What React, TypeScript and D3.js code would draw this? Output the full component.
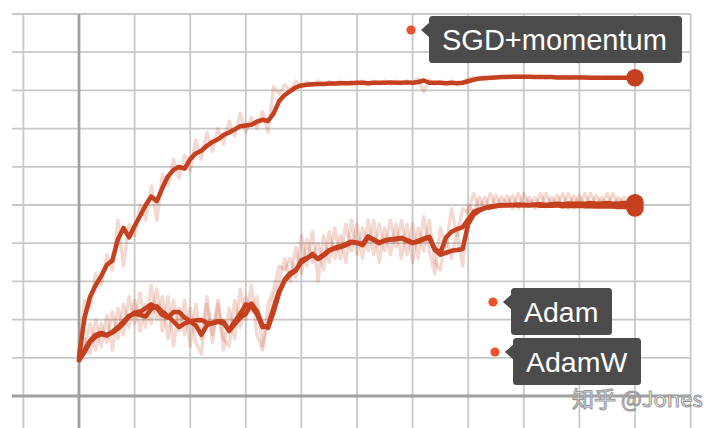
import React from "react";
import * as d3 from "d3";

// Training steps (shared by every series), in thousands
const steps: number[] = d3.range(0, 101, 1);

// SGD + momentum: raw and smoothed values
const sgdRaw = [
  1.1, 2.5, 2.3, 3.2, 2.9, 3.7, 3.3, 4.6, 3.4, 4.5,
  4.2, 5.0, 4.6, 5.5, 4.6, 5.8, 5.5, 6.2, 5.7, 6.3,
  5.9, 6.7, 6.2, 6.9, 6.4, 7.0, 6.6, 7.2, 6.8, 7.4,
  6.9, 7.3, 7.0, 7.45, 6.9, 8.1, 7.9, 8.15, 8.0, 8.25,
  8.1, 8.22, 8.12, 8.25, 8.15, 8.23, 8.15, 8.24, 8.17, 8.24,
  8.16, 8.25, 8.15, 8.24, 8.17, 8.25, 8.16, 8.24, 8.17, 8.25,
  8.18, 8.32, 7.95, 8.27, 8.16, 8.24, 8.15, 8.25, 8.16, 8.22,
  8.3, 8.33, 8.3, 8.36, 8.31, 8.37, 8.33, 8.37, 8.34, 8.38,
  8.33, 8.37, 8.34, 8.37, 8.33, 8.36, 8.33, 8.37, 8.32, 8.36,
  8.33, 8.36, 8.32, 8.36, 8.32, 8.35, 8.32, 8.35, 8.31, 8.34,
  8.32,
];
const sgdSmooth = [
  1.03, 2.05, 2.6, 2.9, 3.14, 3.43, 3.55, 4.1, 4.4, 4.15,
  4.45, 4.72, 5.0, 5.22, 5.1, 5.45, 5.75, 5.92, 6.0, 5.95,
  6.2, 6.35, 6.42, 6.55, 6.65, 6.72, 6.83, 6.9, 6.98, 7.06,
  7.08, 7.1, 7.18, 7.23, 7.2, 7.4, 7.72, 7.88, 7.98, 8.08,
  8.13, 8.15, 8.16, 8.17, 8.17, 8.18, 8.18, 8.19, 8.19, 8.19,
  8.2, 8.2, 8.19, 8.2, 8.2, 8.2, 8.21, 8.2, 8.2, 8.21,
  8.2, 8.22, 8.26, 8.2, 8.2, 8.2, 8.19, 8.2, 8.19, 8.2,
  8.24, 8.28, 8.31, 8.32, 8.33, 8.34, 8.35, 8.35, 8.36, 8.36,
  8.36, 8.36, 8.35, 8.35, 8.35, 8.35, 8.34, 8.34, 8.34, 8.34,
  8.34, 8.34, 8.33, 8.33, 8.33, 8.33, 8.33, 8.33, 8.33, 8.33,
  8.33,
];

// Adam: raw and smoothed values
const adamRaw = [
  0.9, 1.5, 1.1, 2.0, 1.3, 2.1, 1.2, 2.3, 1.6, 2.6,
  1.9, 2.7, 1.8, 2.9, 2.0, 2.6, 1.5, 2.5, 1.7, 2.5,
  1.3, 2.4, 1.5, 2.6, 1.4, 2.4, 1.2, 2.3, 1.5, 2.8,
  2.0, 2.9, 1.6, 1.2, 2.4, 2.8, 3.4, 3.3, 3.6, 3.1,
  4.2, 3.4, 4.3, 3.0, 4.2, 3.5, 4.4, 3.6, 4.5, 3.8,
  4.5, 3.6, 4.6, 3.7, 4.5, 3.8, 4.6, 3.9, 4.6, 3.7,
  4.5, 3.6, 4.7, 3.8, 3.2, 4.4, 3.9, 4.9, 4.2, 4.9,
  4.8, 5.3, 4.9, 5.2, 4.9, 5.25, 4.95, 5.25, 4.9, 5.3,
  4.95, 5.2, 4.9, 5.3, 4.95, 5.2, 5.0, 5.3, 4.9, 5.25,
  5.0, 5.3, 4.95, 5.25, 5.0, 5.3, 4.95, 5.2, 5.0, 5.15,
  5.05,
];
const adamSmooth = [
  0.95, 1.2, 1.45, 1.6, 1.65, 1.6, 1.66, 1.76, 1.9, 2.08,
  2.18, 2.21, 2.3, 2.4, 2.3, 2.12, 2.05, 2.2, 2.2, 2.05,
  1.96, 1.98, 1.99, 1.92, 1.9, 1.94, 1.9, 1.72, 1.95, 2.15,
  2.4, 2.35, 2.15, 1.8, 1.84, 2.3, 2.75, 3.02, 3.18, 3.28,
  3.55, 3.62, 3.68, 3.6, 3.7, 3.82, 3.86, 3.9, 3.95, 4.02,
  4.02, 3.95, 4.15, 4.1, 4.02, 4.06, 4.1, 4.12, 4.13, 4.06,
  4.0, 4.06, 4.12, 4.17, 3.85, 3.75, 4.15, 4.3, 4.37, 4.42,
  4.62, 4.82, 4.88, 4.92, 4.94, 4.97, 4.99, 5.0, 5.0, 5.01,
  5.0, 5.0, 5.01, 5.02, 5.0, 5.02, 5.03, 5.02, 5.04, 5.03,
  5.04, 5.03, 5.05, 5.03, 5.04, 5.05, 5.03, 5.04, 5.05, 5.05,
  5.06,
];

// AdamW: raw and smoothed values
const adamwRaw = [
  1.0, 1.3, 1.9, 1.2, 1.9, 1.4, 2.2, 1.5, 2.4, 1.8,
  2.5, 1.7, 2.4, 1.9, 2.8, 1.7, 2.6, 1.3, 2.3, 1.6,
  2.3, 1.4, 1.1, 2.4, 1.6, 2.5, 1.5, 1.3, 2.5, 1.8,
  2.6, 2.2, 2.6, 1.3, 1.9, 2.6, 3.0, 3.6, 3.0, 3.9,
  3.2, 4.1, 3.5, 4.0, 3.3, 4.3, 3.6, 4.2, 3.5, 4.6,
  3.7, 4.4, 3.8, 4.6, 3.5, 4.4, 3.7, 4.5, 3.6, 4.5,
  3.5, 4.4, 3.8, 4.6, 3.5, 3.3, 4.2, 3.6, 4.3, 3.4,
  5.0, 4.8, 5.2, 4.9, 5.3, 4.95, 5.2, 5.0, 5.25, 4.9,
  5.3, 5.0, 5.2, 4.95, 5.3, 5.0, 5.25, 4.95, 5.3, 5.0,
  5.25, 4.95, 5.3, 5.0, 5.2, 4.95, 5.3, 5.0, 5.2, 5.0,
  4.9,
];
const adamwSmooth = [
  0.93, 1.15, 1.42, 1.55, 1.62, 1.58, 1.68, 1.8, 1.95, 2.1,
  2.15, 2.12, 2.08, 2.28, 2.35, 2.2, 2.1, 1.95, 1.8, 1.9,
  1.95, 1.85, 1.6, 1.85, 1.92, 1.96, 1.95, 1.7, 1.88, 2.05,
  2.15, 2.42, 2.22, 1.85, 1.78, 2.2, 2.7, 3.05, 3.22, 3.3,
  3.5, 3.6, 3.72, 3.58, 3.68, 3.8, 3.88, 3.92, 3.98, 4.04,
  4.0, 3.98, 4.18, 4.08, 4.0, 4.08, 4.1, 4.1, 4.14, 4.08,
  4.02, 4.04, 4.1, 4.15, 3.82, 3.7, 3.75, 3.8, 3.82, 3.85,
  4.5, 4.75, 4.85, 4.92, 4.96, 4.98, 5.0, 4.99, 5.0, 4.99,
  5.0, 4.99, 5.0, 4.98, 4.99, 4.98, 4.99, 4.97, 4.98, 4.97,
  4.98, 4.97, 4.97, 4.96, 4.97, 4.96, 4.96, 4.95, 4.95, 4.94,
  4.92,
];

const seriesNames = ["SGD+momentum", "Adam", "AdamW"];
const rawSeries = [sgdRaw, adamRaw, adamwRaw];
const smoothSeries = [sgdSmooth, adamSmooth, adamwSmooth];

// Grid ticks
const xGridTicks = d3.range(-10, 111, 10);
const yGridTicks = d3.range(0, 11, 1);

const W = 720;
const H = 428;
const LINE = "#c4401f";
const DOT = "#e8552a";
const GRID = "#c8c8c8";
const AXIS = "#a0a0a0";

const x = d3.scaleLinear().domain([0, 100]).range([79, 635]);
const y = d3.scaleLinear().domain([0, 10]).range([396, 14]);

const line = d3
  .line<number>()
  .x((_, i) => x(steps[i]))
  .y((d) => y(d))
  .curve(d3.curveLinear);

// Tooltip-style legend labels
const labels = [
  { name: seriesNames[0], box: [429, 16, 253, 47], fs: 29 },
  { name: seriesNames[1], box: [511, 288, 101, 47], fs: 28.5 },
  { name: seriesNames[2], box: [513, 338, 128, 47], fs: 28.5 },
];

function Label({ name, box, fs }: { name: string; box: number[]; fs: number }) {
  const [bx, by, bw, bh] = box;
  const ty = by + 14;
  return (
    <g>
      <circle cx={bx - 18} cy={ty} r={4.6} fill={DOT} />
      <path d={`M${bx - 8},${ty} L${bx + 1},${ty - 8} L${bx + 1},${ty + 8} Z`} fill="#4b4b4b" />
      <rect x={bx} y={by} width={bw} height={bh} rx={3.5} fill="#4b4b4b" />
      <text
        x={bx + 13}
        y={by + bh / 2 + fs * 0.355}
        fill="#ffffff"
        fontSize={fs}
        fontFamily="'Liberation Sans', Arial, Helvetica, sans-serif"
      >
        {name}
      </text>
    </g>
  );
}

export default function App() {
  return (
    <svg
      width={W}
      height={H}
      viewBox={`0 0 ${W} ${H}`}
      style={{ position: "absolute", left: 0, top: 0, display: "block", background: "#fff" }}
    >
      {/* grid */}
      <g>
        {yGridTicks.map((t) => (
          <line key={"h" + t} x1={12} x2={x(110)} y1={y(t)} y2={y(t)} stroke={GRID} strokeWidth={1.8} />
        ))}
        {xGridTicks.map((t) => (
          <line key={"v" + t} x1={x(t)} x2={x(t)} y1={y(10)} y2={H} stroke={GRID} strokeWidth={1.8} />
        ))}
      </g>
      {/* axes */}
      <line x1={12} x2={x(110)} y1={y(0)} y2={y(0)} stroke={AXIS} strokeWidth={2.8} />
      <line x1={x(0)} x2={x(0)} y1={y(10)} y2={H} stroke={AXIS} strokeWidth={2.8} />

      {/* raw values */}
      {rawSeries.map((s, i) => (
        <path
          key={"raw" + i}
          d={line(s) || ""}
          fill="none"
          stroke={LINE}
          strokeOpacity={0.2}
          strokeWidth={3.4}
          strokeLinejoin="round"
        />
      ))}
      {/* smoothed values */}
      {smoothSeries.map((s, i) => (
        <path
          key={"sm" + i}
          d={line(s) || ""}
          fill="none"
          stroke={LINE}
          strokeWidth={4.5}
          strokeLinejoin="round"
          strokeLinecap="round"
        />
      ))}
      {/* last-value markers */}
      {smoothSeries.map((s, i) => (
        <circle
          key={"end" + i}
          cx={x(steps[steps.length - 1])}
          cy={y(s[s.length - 1])}
          r={8.8}
          fill={LINE}
        />
      ))}

      {labels.map((l) => (
        <Label key={l.name} {...l} />
      ))}

      <text
        x={572}
        y={407}
        fontSize={22}
        fontFamily="'Noto Sans CJK SC', 'Noto Sans', sans-serif"
        fill="#ffffff"
        stroke="#999999"
        strokeWidth={1.1}
      >
        知乎 @Jones
      </text>
    </svg>
  );
}
